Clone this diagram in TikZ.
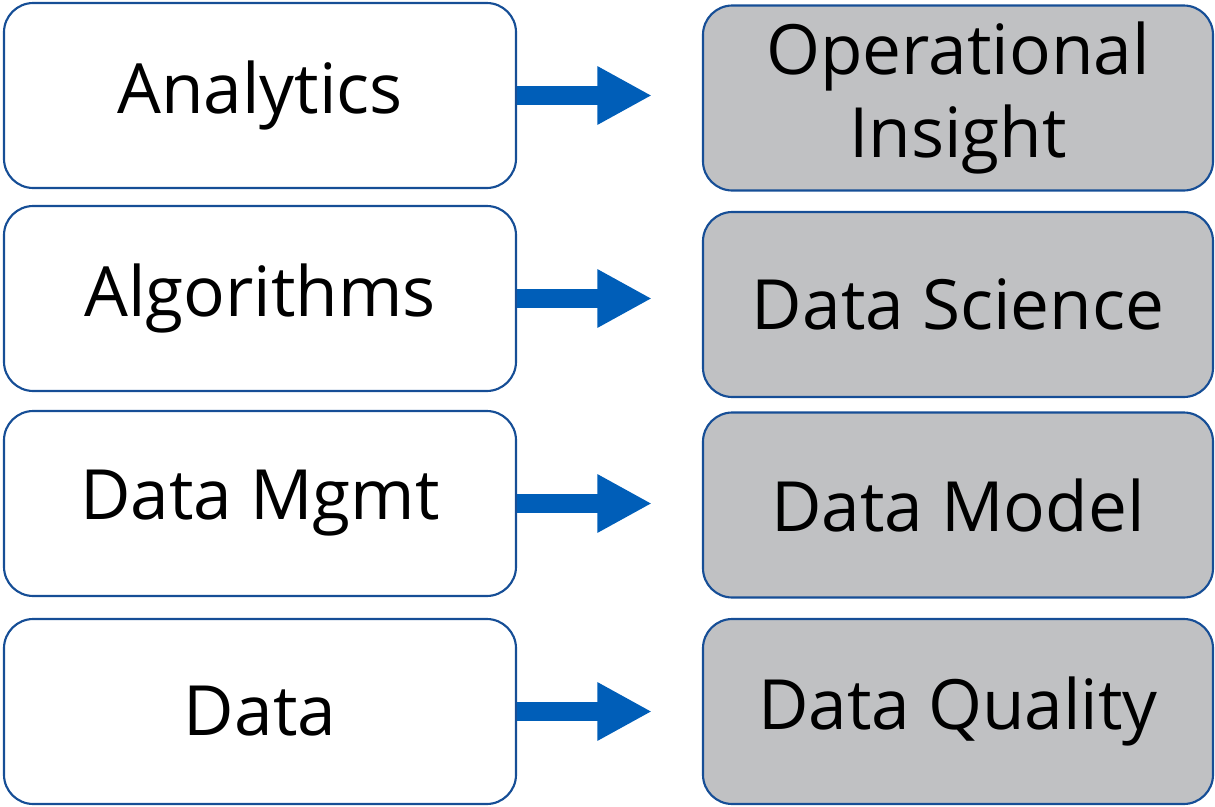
\documentclass[tikz,border=0pt]{standalone}
\usepackage{fontspec}
\setmainfont{Open Sans}
\usetikzlibrary{arrows.meta}
\definecolor{boxline}{RGB}{22,78,150}
\definecolor{boxgrey}{RGB}{192,193,195}
\definecolor{arrowblue}{RGB}{0,94,184}

\begin{document}
\begin{tikzpicture}[x=0.75pt,y=-0.75pt,
  layer/.style={draw=boxline,line width=1.6pt,rounded corners=22pt,
    minimum width=512*0.75pt,minimum height=185*0.75pt,
    align=center,font=\fontsize{52}{62}\selectfont,inner sep=0pt},
  outcome/.style={layer,fill=boxgrey,minimum width=510*0.75pt},
  flow/.style={draw=arrowblue,line width=14.25pt,
    -{Triangle[length=41pt,width=41pt]},shorten >=37.5pt}]
\useasboundingbox (0,0) rectangle (1215,807);
% left column
\node[layer] (ana) at (260,95.5) {Analytics};
\node[layer] (alg) at (260,298.5) {Algorithms};
\node[layer] (mgmt) at (260,503.5) {Data Mgmt};
\node[layer] (dat) at (260,711.5) {Data};
% right column
\node[outcome] (ins) at (958,98) {Operational\\Insight};
\node[outcome] (sci) at (958,304.5) {Data Science};
\node[outcome] (mod) at (958,505) {Data Model};
\node[outcome] (qual) at (958,711.5) {Data Quality};
% arrows
\draw[flow] (ana.east) -- (ana.east -| ins.west);
\draw[flow] (alg.east) -- (alg.east -| sci.west);
\draw[flow] (mgmt.east) -- (mgmt.east -| mod.west);
\draw[flow] (dat.east) -- (dat.east -| qual.west);
\end{tikzpicture}
\end{document}
